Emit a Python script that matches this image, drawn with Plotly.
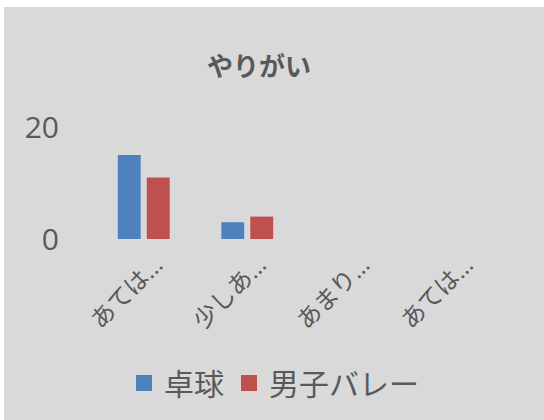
import plotly.graph_objects as go

# Survey answers and counts per team
categories = ["あてはまる", "少しあてはまる", "あまりあてはまらない", "あてはまらない"]
tick_labels = ["あては…", "少しあ…", "あまり…", "あては…"]
series_names = ["卓球", "男子バレー"]
table_tennis = [15, 3, 0, 0]
volleyball = [11, 4, 0, 0]
y_ticks = [0, 20]

colors = ["#4f81bd", "#c0504d"]
text_color = "#595959"
font_family = "Open Sans, Noto Sans CJK JP, sans-serif"

W, H = 544, 420
L, R, T, B = 92, 38, 127, 181
plot_w = W - L - R
plot_h = H - T - B

fig = go.Figure()
for name, vals, col in zip(series_names, [table_tennis, volleyball], colors):
    fig.add_trace(go.Bar(x=categories, y=vals, name=name, marker_color=col,
                         marker_line_width=0, showlegend=False))
    # larger square legend swatch
    fig.add_trace(go.Scatter(x=[None], y=[None], mode="markers", name=name,
                             marker=dict(symbol="square", size=20, color=col)))

def px_x(px):
    return (px - L) / plot_w

def px_y(py):
    return (H - B - py) / plot_h

fig.update_layout(
    width=W, height=H,
    margin=dict(l=L, r=R, t=T, b=B),
    paper_bgcolor="white",
    plot_bgcolor="rgba(0,0,0,0)",
    font=dict(family=font_family, color=text_color),
    title=dict(text="<b>やりがい</b>", x=259 / W, xanchor="center",
               y=1 - 67 / H, yanchor="middle", yref="container",
               font=dict(size=26, color=text_color, family=font_family)),
    barmode="group",
    bargap=0.44,
    bargroupgap=0.21,
    shapes=[dict(type="rect", xref="paper", yref="paper",
                 x0=px_x(4), x1=px_x(W), y0=px_y(H), y1=px_y(7),
                 fillcolor="#d9d9d9", line_width=0, layer="below")],
    legend=dict(orientation="h", x=274 / W, xanchor="center", xref="container",
                y=1 - 383 / H, yanchor="middle", yref="container",
                font=dict(size=30, color=text_color, family=font_family),
                bgcolor="rgba(0,0,0,0)", itemsizing="trace"),
    xaxis=dict(type="category", tickvals=categories, ticktext=tick_labels,
               tickangle=-45, tickfont=dict(size=24, color=text_color),
               ticklabelshift=12, ticklabelstandoff=6,
               showgrid=False, showline=False, zeroline=False, ticks=""),
    yaxis=dict(range=[0, 20], tickvals=y_ticks, showgrid=False, zeroline=False,
               showline=False, ticks="", ticklabelstandoff=32,
               tickfont=dict(size=30, color=text_color)),
)

fig.write_html("out.html")
